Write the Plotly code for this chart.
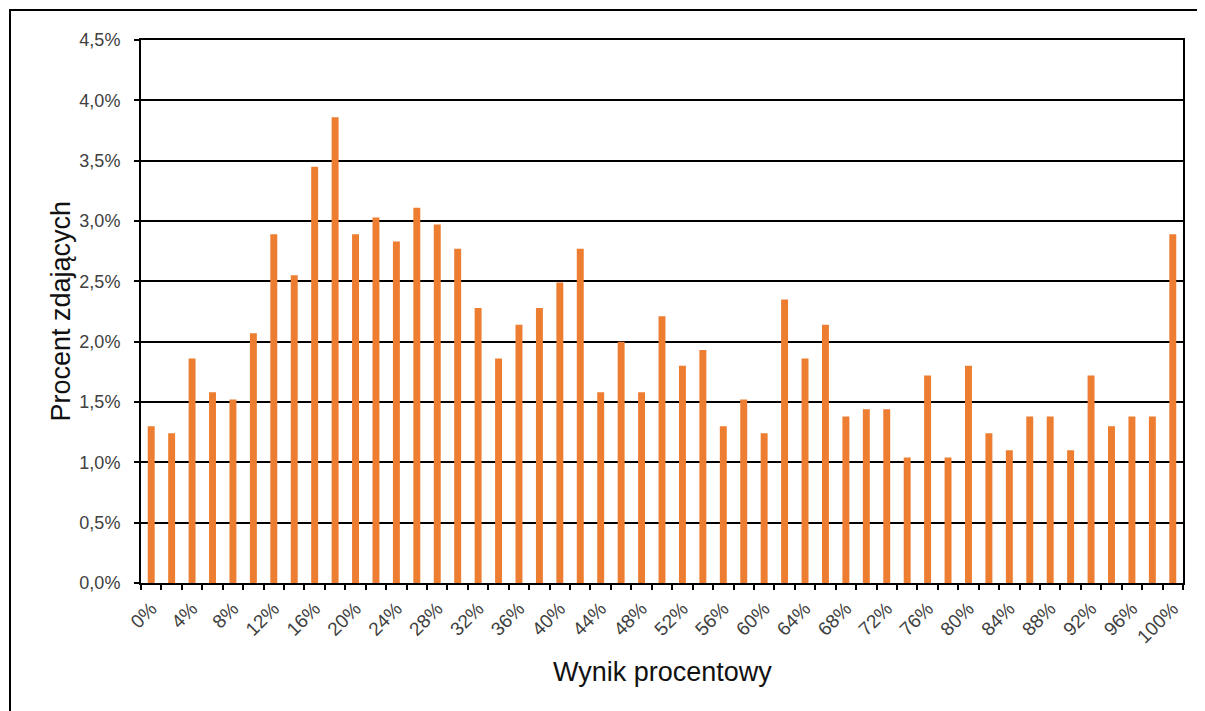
import plotly.graph_objects as go

# Data
wynik = list(range(0, 101, 2))  # score in %
procent = [1.30, 1.24, 1.86, 1.58, 1.52, 2.07, 2.89, 2.55, 3.45, 3.86,
           2.89, 3.03, 2.83, 3.11, 2.97, 2.77, 2.28, 1.86, 2.14, 2.28,
           2.49, 2.77, 1.58, 2.00, 1.58, 2.21, 1.80, 1.93, 1.30, 1.52,
           1.24, 2.35, 1.86, 2.14, 1.38, 1.44, 1.44, 1.04, 1.72, 1.04,
           1.80, 1.24, 1.10, 1.38, 1.38, 1.10, 1.72, 1.30, 1.38, 1.38,
           2.89]
x_ticks = list(range(0, 101, 4))
x_ticktext = [f"{v}%" for v in x_ticks]
y_ticks = [0, 0.5, 1.0, 1.5, 2.0, 2.5, 3.0, 3.5, 4.0, 4.5]
y_ticktext = [f"{v:.1f}%".replace(".", ",") for v in y_ticks]

# page body has an 8px margin; compensate so the figure lands where the reference is
OFF = 8
L, T, R, B = 141, 40, 1183, 583
W, H = 1205 - OFF, 711 - OFF

fig = go.Figure()
fig.add_trace(go.Bar(x=wynik, y=procent, width=0.68,
                     marker=dict(color="#ED7D31", line=dict(width=0))))

fam = "Liberation Sans, Arial, sans-serif"
ytickfont = dict(family=fam, size=18, color="#404040")
xtickfont = dict(family=fam, size=19, color="#404040")
titlefont = dict(family=fam, size=27, color="#111111")

pw, ph = R - L, B - T

fig.update_layout(
    width=W, height=H,
    margin=dict(l=L - OFF, r=1205 - R, t=T - OFF, b=711 - B),
    paper_bgcolor="white", plot_bgcolor="white",
    showlegend=False,
    xaxis=dict(
        range=[-1, 101], tickmode="array", tickvals=x_ticks, ticktext=x_ticktext,
        tickangle=-45, tickfont=xtickfont,
        ticks="outside", ticklen=5, tickcolor="rgba(0,0,0,0)",
        minor=dict(tickmode="array", tickvals=[v - 1 for v in wynik] + [101],
                   ticks="outside", ticklen=5, tickwidth=2, tickcolor="black"),
        showline=True, linecolor="black", linewidth=2, mirror=True,
        showgrid=False, zeroline=False, fixedrange=True,
    ),
    yaxis=dict(
        range=[0, 4.5], tickmode="array", tickvals=y_ticks, ticktext=y_ticktext,
        tickfont=ytickfont,
        ticks="outside", ticklen=5, tickwidth=2, tickcolor="black",
        ticklabelstandoff=10,
        showline=True, linecolor="black", linewidth=2, mirror=True,
        showgrid=True, gridcolor="black", gridwidth=2, zeroline=False,
    ),
    annotations=[
        dict(text="Wynik procentowy", xref="paper", yref="paper",
             x=0.5, y=(B - 672) / ph, xanchor="center", yanchor="middle",
             showarrow=False, font=titlefont),
        dict(text="Procent zdających", xref="paper", yref="paper",
             x=(60 - L) / pw, y=0.5, xanchor="center", yanchor="middle",
             textangle=-90, showarrow=False, font=titlefont),
    ],
    shapes=[
        dict(type="rect", xref="paper", yref="paper",
             x0=(10 - L) / pw, x1=1.2, y0=-0.5, y1=(B - 10) / ph,
             line=dict(color="black", width=2), layer="above"),
    ],
)

fig.write_html("out.html")
